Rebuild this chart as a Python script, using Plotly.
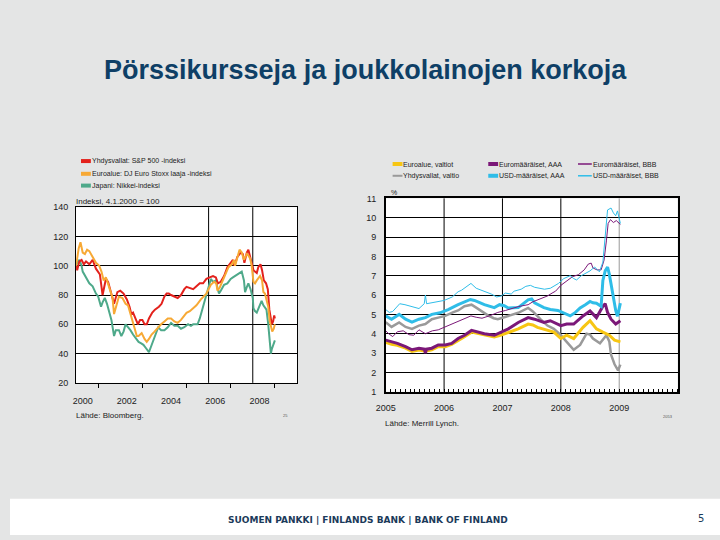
import plotly.graph_objects as go

# ---------------- data: left chart (index, 4.1.2000 = 100) ----------------
sp_t = [2000.00, 2000.05, 2000.15, 2000.25, 2000.35, 2000.45, 2000.6, 2000.75, 2000.9, 2001.0,
        2001.08, 2001.2, 2001.35, 2001.45, 2001.57, 2001.72, 2001.87, 2002.0, 2002.15, 2002.3,
        2002.42, 2002.5, 2002.58, 2002.68, 2002.8, 2002.9, 2003.0, 2003.1, 2003.2, 2003.3,
        2003.45, 2003.57, 2003.75, 2003.87, 2004.0, 2004.1, 2004.2, 2004.3, 2004.45, 2004.6,
        2004.75, 2004.9, 2005.0, 2005.15, 2005.3, 2005.45, 2005.6, 2005.75, 2005.9, 2006.05,
        2006.2, 2006.33, 2006.42, 2006.55, 2006.7, 2006.85, 2007.0, 2007.1, 2007.17, 2007.3,
        2007.45, 2007.55, 2007.62, 2007.73, 2007.8, 2007.88, 2007.95, 2008.03, 2008.1, 2008.18,
        2008.25, 2008.35, 2008.42, 2008.5, 2008.6, 2008.68, 2008.75, 2008.8, 2008.86, 2008.92,
        2008.97, 2009.0]
sp500 = [100, 97, 103, 104, 101, 103, 101, 104, 98, 96,
         94, 80, 91, 89, 82, 74, 82, 83, 81, 77,
         72, 67, 68, 64, 60, 63, 63, 60, 60, 64,
         68, 70, 72, 74, 79, 81, 81, 80, 79, 78,
         80, 84, 85.6, 85, 84, 86, 88, 88, 91, 92,
         93, 92, 88, 89, 93, 99, 102, 104, 100, 106,
         109, 108, 102, 109, 111, 106, 103, 97, 96, 95,
         99, 101, 97, 90, 88, 84, 70, 65, 60, 62,
         66, 64]

es_t = [2000.0, 2000.05, 2000.12, 2000.2, 2000.25, 2000.3, 2000.4, 2000.5, 2000.6, 2000.68,
        2000.8, 2000.9, 2001.05, 2001.15, 2001.25, 2001.35, 2001.42, 2001.57, 2001.65, 2001.72,
        2001.8, 2001.94, 2002.1, 2002.24, 2002.35, 2002.46, 2002.55, 2002.68, 2002.75, 2002.83,
        2002.97, 2003.1, 2003.2, 2003.3, 2003.42, 2003.55, 2003.72, 2003.85, 2004.0, 2004.15,
        2004.3, 2004.45, 2004.6, 2004.75, 2004.9, 2005.0, 2005.15, 2005.3, 2005.45, 2005.65,
        2005.8, 2005.9, 2006.1, 2006.25, 2006.35, 2006.4, 2006.5, 2006.62, 2006.75, 2006.9,
        2007.05, 2007.15, 2007.2, 2007.3, 2007.4, 2007.5, 2007.6, 2007.73, 2007.8, 2007.88,
        2007.95, 2008.03, 2008.1, 2008.18, 2008.33, 2008.42, 2008.48, 2008.55, 2008.63, 2008.7,
        2008.77, 2008.83, 2008.88, 2008.95, 2009.0]
eurostoxx = [100, 106, 112, 116, 112, 109, 108, 111, 110, 108,
             105, 102, 100, 96, 90, 92, 89, 82, 78, 67,
             72, 79, 78, 74, 73, 67, 62, 56, 52, 52,
             54, 50, 48, 50, 53, 55, 58, 60, 62, 64,
             64, 62, 61, 63, 66, 67.8, 69, 71, 73, 77,
             79, 81, 87, 89, 88, 83, 85, 89, 93, 99,
             101, 104, 100, 106, 111, 109, 104, 108, 107, 105,
             100, 89, 88, 90, 93, 90, 82, 81, 76, 72,
             62, 58, 55, 57, 60]

nk_t = [2000.0, 2000.05, 2000.15, 2000.25, 2000.3, 2000.4, 2000.5, 2000.6, 2000.75, 2000.9,
        2001.0, 2001.13, 2001.2, 2001.3, 2001.4, 2001.5, 2001.6, 2001.72, 2001.8, 2001.94,
        2002.05, 2002.15, 2002.24, 2002.35, 2002.46, 2002.58, 2002.68, 2002.83, 2002.95, 2003.05,
        2003.15, 2003.3, 2003.4, 2003.5, 2003.6, 2003.72, 2003.85, 2004.0, 2004.15, 2004.3,
        2004.45, 2004.6, 2004.75, 2004.9, 2005.07, 2005.2, 2005.3, 2005.5, 2005.6, 2005.73,
        2005.85, 2006.0, 2006.1, 2006.2, 2006.33, 2006.4, 2006.47, 2006.55, 2006.7, 2006.85,
        2007.0, 2007.1, 2007.2, 2007.35, 2007.5, 2007.6, 2007.65, 2007.72, 2007.8, 2007.9,
        2008.0, 2008.03, 2008.1, 2008.18, 2008.3, 2008.4, 2008.48, 2008.55, 2008.62, 2008.7,
        2008.76, 2008.82, 2008.86, 2008.92, 2009.0]
nikkei = [100, 102, 104, 100, 96, 93, 91, 88, 86, 81,
          79, 72, 75, 78, 74, 68, 63, 52, 56, 56,
          52, 55, 60, 58, 56, 53, 51, 48, 47, 46,
          44, 41, 45, 49, 54, 58, 56, 56, 58, 61,
          59, 59, 57, 58, 60, 59, 60, 60, 64, 71,
          78, 87, 91, 89, 90, 85, 81, 83, 87, 88,
          91, 92, 93, 94, 96, 90, 82, 85, 88, 84,
          78, 71, 69, 68, 73, 76, 73, 71, 70, 60,
          52, 40, 43, 46, 49]

left_names = ["Yhdysvallat: S&P 500 -indeksi",
              "Euroalue: DJ Euro Stoxx laaja -indeksi",
              "Japani: Nikkei-indeksi"]
left_year_labels = [2000, 2002, 2004, 2006, 2008]
left_minor_years = [2001, 2003, 2005, 2007, 2009]
left_vlines = [2006, 2008]

# ---------------- data: right chart (%) ----------------
eg_t = [2005.0, 2005.1, 2005.2, 2005.34, 2005.45, 2005.57, 2005.68, 2005.79, 2005.9, 2006.02,
        2006.13, 2006.24, 2006.35, 2006.47, 2006.58, 2006.69, 2006.86, 2006.95, 2007.1, 2007.27,
        2007.44, 2007.52, 2007.6, 2007.77, 2007.88, 2008.0, 2008.1, 2008.22, 2008.38, 2008.5,
        2008.61, 2008.72, 2008.83, 2008.92, 2009.02]
euro_gov = [3.55, 3.45, 3.4, 3.25, 3.08, 3.15, 3.1, 3.17, 3.33, 3.33,
            3.45, 3.67, 3.85, 4.08, 4.0, 3.92, 3.83, 3.9, 4.05, 4.25,
            4.5, 4.45, 4.33, 4.17, 4.08, 3.75, 3.92, 3.75, 4.33, 4.67,
            4.25, 4.08, 3.92, 3.67, 3.58]

us_t = [2005.0, 2005.1, 2005.23, 2005.34, 2005.45, 2005.57, 2005.68, 2005.79, 2005.9, 2006.02,
        2006.15, 2006.24, 2006.35, 2006.47, 2006.55, 2006.64, 2006.75, 2006.85, 2006.92, 2007.03,
        2007.1, 2007.27, 2007.44, 2007.52, 2007.65, 2007.77, 2007.88, 2008.0, 2008.1, 2008.22,
        2008.33, 2008.44, 2008.5, 2008.55, 2008.67, 2008.78, 2008.83, 2008.86, 2008.92, 2008.98,
        2009.02]
us_gov = [4.6, 4.35, 4.58, 4.35, 4.25, 4.42, 4.5, 4.75, 4.83, 4.92,
          5.1, 5.2, 5.42, 5.5, 5.35, 5.17, 4.95, 4.8, 4.75, 4.85,
          4.92, 5.08, 5.33, 5.15, 4.75, 4.42, 4.25, 3.92, 3.58, 3.17,
          3.42, 4.0, 3.95, 3.75, 3.5, 3.92, 3.6, 2.92, 2.42, 2.1,
          2.4]

ea_t = [2005.0, 2005.1, 2005.2, 2005.34, 2005.45, 2005.57, 2005.66, 2005.68, 2005.7, 2005.79,
        2005.9, 2006.02, 2006.13, 2006.24, 2006.35, 2006.47, 2006.58, 2006.69, 2006.86, 2006.95,
        2007.1, 2007.27, 2007.44, 2007.55, 2007.71, 2007.82, 2008.0, 2008.1, 2008.22, 2008.38,
        2008.5, 2008.61, 2008.72, 2008.76, 2008.8, 2008.86, 2008.94, 2009.02]
euro_aaa = [3.67, 3.58, 3.5, 3.33, 3.17, 3.25, 3.2, 3.0, 3.2, 3.25,
            3.42, 3.42, 3.5, 3.75, 3.92, 4.17, 4.08, 4.0, 3.92, 4.05,
            4.25, 4.58, 4.83, 4.75, 4.58, 4.67, 4.42, 4.5, 4.5, 4.92,
            5.17, 4.83, 5.42, 5.55, 5.1, 4.75, 4.5, 4.67]

eb_t = [2005.0, 2005.05, 2005.12, 2005.2, 2005.3, 2005.4, 2005.48, 2005.57, 2005.68, 2005.8,
        2005.9, 2006.0, 2006.1, 2006.2, 2006.35, 2006.46, 2006.55, 2006.65, 2006.8, 2006.92,
        2007.05, 2007.15, 2007.27, 2007.35, 2007.44, 2007.52, 2007.6, 2007.7, 2007.77, 2007.85,
        2007.91, 2008.0, 2008.07, 2008.13, 2008.2, 2008.3, 2008.4, 2008.47, 2008.52, 2008.55,
        2008.62, 2008.69, 2008.74, 2008.78, 2008.81, 2008.85, 2008.9, 2008.95, 2009.02]
euro_bbb = [4.15, 4.0, 3.85, 4.1, 4.15, 3.95, 3.92, 4.2, 4.0, 4.15,
            4.2, 4.33, 4.45, 4.58, 4.75, 4.92, 4.85, 4.8, 4.95, 5.1,
            5.2, 5.3, 5.4, 5.45, 5.5, 5.65, 5.75, 5.85, 5.95, 6.1,
            6.2, 6.5, 6.65, 6.8, 6.95, 7.05, 7.3, 7.6, 7.65, 7.4,
            7.3, 7.3, 7.8, 8.8, 9.7, 9.9, 9.75, 9.85, 9.65]

ua_t = [2005.0, 2005.1, 2005.23, 2005.34, 2005.45, 2005.57, 2005.68, 2005.79, 2005.93, 2006.07,
        2006.24, 2006.35, 2006.45, 2006.52, 2006.69, 2006.86, 2006.95, 2007.03, 2007.1, 2007.27,
        2007.44, 2007.5, 2007.55, 2007.71, 2007.82, 2007.95, 2008.05, 2008.16, 2008.25, 2008.33,
        2008.42, 2008.5, 2008.55, 2008.61, 2008.69, 2008.72, 2008.76, 2008.8, 2008.83, 2008.86,
        2008.89, 2008.94, 2008.97, 2009.02]
usd_aaa = [4.92, 4.75, 5.0, 4.75, 4.6, 4.75, 4.83, 5.0, 5.08, 5.25,
           5.5, 5.65, 5.77, 5.72, 5.5, 5.35, 5.5, 5.45, 5.33, 5.35,
           5.75, 5.8, 5.6, 5.35, 5.25, 5.2, 5.08, 4.92, 5.1, 5.33,
           5.5, 5.67, 5.6, 5.58, 5.42, 6.75, 7.25, 7.45, 7.08, 6.5,
           6.08, 5.2, 4.9, 5.58]

ub_t = [2005.0, 2005.06, 2005.12, 2005.24, 2005.33, 2005.4, 2005.5, 2005.57, 2005.66, 2005.68,
        2005.7, 2005.8, 2005.91, 2006.0, 2006.14, 2006.24, 2006.3, 2006.41, 2006.46, 2006.55,
        2006.64, 2006.72, 2006.81, 2006.9, 2006.98, 2007.05, 2007.15, 2007.2, 2007.32, 2007.4,
        2007.48, 2007.55, 2007.65, 2007.72, 2007.82, 2007.9, 2007.96, 2008.05, 2008.16, 2008.22,
        2008.27, 2008.35, 2008.44, 2008.5, 2008.58, 2008.66, 2008.72, 2008.75, 2008.78, 2008.8,
        2008.86, 2008.9, 2008.94, 2008.97, 2009.02]
usd_bbb = [5.25, 5.1, 5.15, 5.55, 5.5, 5.45, 5.35, 5.3, 5.55, 6.0,
           5.55, 5.6, 5.69, 5.72, 5.9, 6.17, 6.25, 6.5, 6.6, 6.35,
           6.25, 6.17, 6.05, 5.9, 5.95, 6.1, 6.05, 6.2, 6.3, 6.45,
           6.5, 6.4, 6.33, 6.3, 6.35, 6.5, 6.6, 6.85, 7.0, 6.85,
           6.78, 7.0, 7.15, 7.25, 7.45, 7.2, 7.7, 8.7, 9.7, 10.4,
           10.5, 10.25, 10.1, 10.35, 9.7]

right_names = ["Euroalue, valtiot", "Euromääräiset, AAA", "Euromääräiset, BBB",
               "Yhdysvallat, valtio", "USD-määräiset, AAA", "USD-määräiset, BBB"]
right_year_labels = [2005, 2006, 2007, 2008, 2009]
right_vlines = [2006, 2007, 2008]
right_vline_grey = [2009]

# ---------------- styling ----------------
W, H = 720, 540
FONT = "Liberation Sans, Arial, sans-serif"
BG = "#e4e5e5"
NAVY = "#0e3f66"
RED, ORANGE, GREEN = "#e3211c", "#f7a935", "#4ea98a"
YELLOW, PURPLE, GREY, CYAN = "#f7c613", "#7b1878", "#9a9a9a", "#2fbde8"


def px(x):
    return x / W


def py(y):
    return 1 - y / H


fig = go.Figure()

for t, v, c, n in [(nk_t, nikkei, GREEN, left_names[2]),
                   (sp_t, sp500, RED, left_names[0]),
                   (es_t, eurostoxx, ORANGE, left_names[1])]:
    fig.add_trace(go.Scatter(x=t, y=v, mode="lines", name=n, line=dict(color=c, width=2),
                             xaxis="x", yaxis="y", showlegend=False))

right_series = [
    (us_t, us_gov, GREY, 2.5, right_names[3]),
    (eg_t, euro_gov, YELLOW, 3, right_names[0]),
    (ea_t, euro_aaa, PURPLE, 3, right_names[1]),
    (ua_t, usd_aaa, CYAN, 3, right_names[4]),
    (eb_t, euro_bbb, PURPLE, 1, right_names[2]),
    (ub_t, usd_bbb, CYAN, 1, right_names[5]),
]
for t, v, c, w, n in right_series:
    fig.add_trace(go.Scatter(x=t, y=v, mode="lines", name=n, line=dict(color=c, width=w),
                             xaxis="x2", yaxis="y2", showlegend=False))

tickfont = dict(family=FONT, size=9, color="#222222")

shapes = []
shapes.append(dict(type="rect", xref="paper", yref="paper", x0=0, x1=1, y0=0, y1=py(503),
                   fillcolor="white", line=dict(width=0), layer="below"))
for xv in left_vlines:
    shapes.append(dict(type="line", xref="x", yref="y domain", x0=xv, x1=xv, y0=0, y1=1,
                       line=dict(color="black", width=1), layer="below"))
for xv in right_vlines:
    shapes.append(dict(type="line", xref="x2", yref="y2 domain", x0=xv, x1=xv, y0=0, y1=1,
                       line=dict(color="black", width=1), layer="below"))
for xv in right_vline_grey:
    shapes.append(dict(type="line", xref="x2", yref="y2 domain", x0=xv, x1=xv, y0=0, y1=1,
                       line=dict(color="#999999", width=1), layer="below"))

annotations = []


def text(x, y, s, size=9, anchor="left", color="#222222", family=FONT, bold=False):
    if bold:
        s = "<b>" + s + "</b>"
    annotations.append(dict(x=px(x), y=py(y), xref="paper", yref="paper", text=s,
                            showarrow=False, xanchor=anchor, yanchor="middle",
                            font=dict(family=family, size=size, color=color)))


def swatch(x0, x1, y, color, width):
    shapes.append(dict(type="line", xref="paper", yref="paper", x0=px(x0), x1=px(x1),
                       y0=py(y), y1=py(y), line=dict(color=color, width=width)))


text(360, 66, "Pörssikursseja ja joukkolainojen korkoja", size=27, anchor="center",
     color=NAVY, bold=True)

for (n, c), yy in zip([(left_names[0], RED), (left_names[1], ORANGE), (left_names[2], GREEN)],
                      [159, 172, 184]):
    swatch(72, 82, yy, c, 4)
    text(81, yy, n, size=7)
text(65, 200, "Indeksi, 4.1.2000 = 100", size=8)
text(65, 418, "Lähde: Bloomberg.", size=8)
text(279, 418, "25", size=4, anchor="center", color="#555555")

leg_cols = [(388, 398), (485, 495), (576, 590)]
leg_rows = [162, 174]
leg_styles = [(YELLOW, 4), (PURPLE, 4), (PURPLE, 1.5), (GREY, 2), (CYAN, 4), (CYAN, 1.5)]
for i, (n, (c, w)) in enumerate(zip(right_names, leg_styles)):
    x0, x1 = leg_cols[i % 3]
    yy = leg_rows[i // 3]
    swatch(x0, x1, yy, c, w)
    text(x1 - 1, yy, n, size=7)
text(384, 191, "%", size=7)
text(378, 426, "Lähde: Merrill Lynch.", size=8)
text(667, 419, "2053", size=4, anchor="center", color="#555555")

text(363, 525, "SUOMEN PANKKI | FINLANDS BANK | BANK OF FINLAND", size=9, anchor="center",
     color="#1b3a5a", family="DejaVu Sans, sans-serif", bold=True)
text(701, 523, "5", size=10, anchor="center", color="#1b3a5a", family="DejaVu Sans, sans-serif")

fig.update_layout(
    width=W, height=H,
    margin=dict(l=0, r=0, t=0, b=0),
    paper_bgcolor=BG, plot_bgcolor="white",
    showlegend=False,
    shapes=shapes, annotations=annotations,
    xaxis=dict(domain=[px(67), px(291)], range=[2000, 2010], showgrid=False, zeroline=False,
               showline=True, linecolor="black", linewidth=1, mirror=True,
               tickmode="array", tickvals=[v + 0.3 for v in left_year_labels],
               ticktext=[str(v) for v in left_year_labels], ticks="", tickfont=tickfont,
               ticklabelstandoff=9,
               minor=dict(tickmode="array", tickvals=left_minor_years, ticks="outside",
                          ticklen=4, tickcolor="black", showgrid=False)),
    yaxis=dict(domain=[py(385), py(206)], range=[20, 140], dtick=20, showgrid=True,
               gridcolor="black", gridwidth=1, zeroline=False, showline=True, linecolor="black",
               mirror=True, ticks="", tickfont=tickfont, ticklabelstandoff=5),
    xaxis2=dict(domain=[px(381), px(677)], range=[2005, 2010], showgrid=False, zeroline=False,
                showline=True, linecolor="black", linewidth=1.5, mirror=True,
                tickmode="array", tickvals=right_year_labels,
                ticktext=[str(v) for v in right_year_labels], ticks="", tickfont=tickfont,
                anchor="y2", ticklabelstandoff=7,
                minor=dict(tick0=2005, dtick=1 / 12, ticks="inside", ticklen=3,
                           tickcolor="black", showgrid=False)),
    yaxis2=dict(domain=[py(394), py(197)], range=[1, 11], dtick=1, showgrid=True,
                gridcolor="black", gridwidth=1, zeroline=False, showline=True, linecolor="black",
                linewidth=1.5, mirror=True, ticks="", tickfont=tickfont, anchor="x2",
                ticklabelstandoff=6),
)

fig.write_html("out.html")
